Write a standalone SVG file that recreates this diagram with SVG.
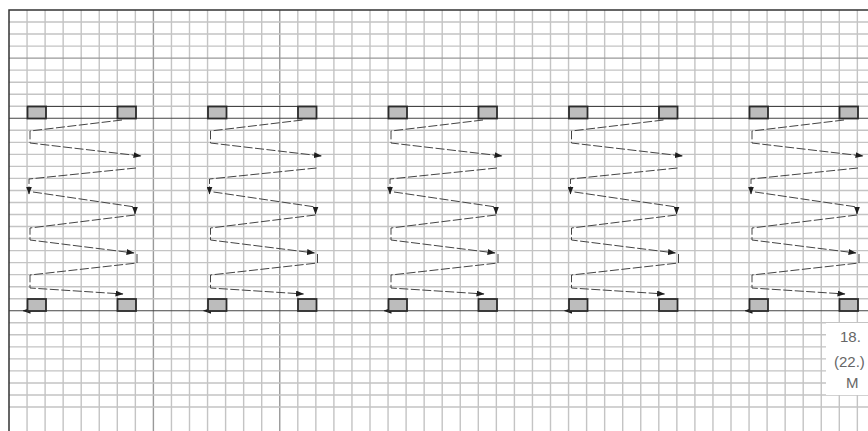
<svg xmlns="http://www.w3.org/2000/svg" width="868" height="431" viewBox="0 0 868 431">
<style>
.g{stroke:#c4c4c4;stroke-width:1.4;fill:none}
.gd{stroke:#999;stroke-width:1.4;fill:none}
.bd{stroke:#444;stroke-width:1.2;fill:none}
.box{fill:#bcbcbc;stroke:#2b2b2b;stroke-width:1.8}
.c{stroke:#444;stroke-width:1;fill:none;stroke-dasharray:9 2.5;marker-end:url(#ah)}
.cs{stroke:#444;stroke-width:1;fill:none}
.t{font-family:"Liberation Sans",Arial,sans-serif;font-size:15px;fill:#666}
</style>
<defs>
<marker id="ah" viewBox="0 0 8 6" refX="7.5" refY="3" markerWidth="8" markerHeight="6" markerUnits="userSpaceOnUse" orient="auto"><path d="M0,0 L8,3 L0,6 z" fill="#1e1e1e"/></marker>
<g id="zig">
<path class="c" d="M122,120 L30,131 L30,143 L141,156"/>
<path class="c" d="M136,168 L29,179 L29,194"/>
<path class="c" d="M33,192 L135,207 L135,214"/>
<path class="c" d="M135,215 L30,228 L30,240 L134,253"/>
<path class="c" d="M137,254 L137,263 L30,275 L30,288 L123,294"/>
<path class="c" d="M40,310.75 L23,310.75"/>
<path class="cs" d="M46,106.5 L117.5,106.5"/>
</g>
</defs>
<rect width="868" height="431" fill="#fff"/>
<g id="grid">
<path class="g" d="M27.05,10V431M45.1,10V431M63.15,10V431M81.2,10V431M99.25,10V431M117.3,10V431M135.35,10V431M171.45,10V431M189.5,10V431M207.55,10V431M225.6,10V431M243.65,10V431M261.7,10V431M297.8,10V431M315.85,10V431M333.9,10V431M351.95,10V431M370,10V431M388.05,10V431M406.1,10V431M424.15,10V431M442.2,10V431M460.25,10V431M478.3,10V431M496.35,10V431M514.4,10V431M532.45,10V431M550.5,10V431M568.55,10V431M586.6,10V431M604.65,10V431M622.7,10V431M640.75,10V431M658.8,10V431M676.85,10V431M694.9,10V431M712.95,10V431M731,10V431M749.05,10V431M767.1,10V431M785.15,10V431M803.2,10V431M821.25,10V431M839.3,10V431M857.35,10V431"/>
<path class="gd" d="M153.4,10V431M279.75,10V431"/>
<path class="g" d="M9,22.03H868M9,34.06H868M9,46.09H868M9,70.15H868M9,82.18H868M9,94.21H868M9,106.24H868M9,130.3H868M9,142.33H868M9,154.36H868M9,166.39H868M9,178.42H868M9,190.45H868M9,202.48H868M9,214.51H868M9,226.54H868M9,238.57H868M9,250.6H868M9,262.63H868M9,274.66H868M9,286.69H868M9,298.72H868M9,322.78H868M9,334.81H868M9,346.84H868M9,358.87H868M9,370.9H868M9,382.93H868M9,394.96H868M9,406.99H868"/>
<path class="gd" d="M9,58.12H868"/>
<path class="bd" d="M9,118.27H868M9,310.75H868"/>
<path d="M9,431V10H868" fill="none" stroke="#333" stroke-width="1.5"/>
</g>
<g id="connectors">
<use href="#zig"/>
<use href="#zig" transform="translate(180.5,0)"/>
<use href="#zig" transform="translate(361,0)"/>
<use href="#zig" transform="translate(541.5,0)"/>
<use href="#zig" transform="translate(722,0)"/>
</g>
<g id="group1"><rect class="box" x="27.5" y="106.5" width="18.5" height="12"/><rect class="box" x="117.5" y="106.5" width="18.5" height="12"/><rect class="box" x="27.5" y="299" width="18.5" height="12"/><rect class="box" x="117.5" y="299" width="18.5" height="12"/></g>
<g id="group2"><rect class="box" x="208" y="106.5" width="18.5" height="12"/><rect class="box" x="298" y="106.5" width="18.5" height="12"/><rect class="box" x="208" y="299" width="18.5" height="12"/><rect class="box" x="298" y="299" width="18.5" height="12"/></g>
<g id="group3"><rect class="box" x="388.5" y="106.5" width="18.5" height="12"/><rect class="box" x="478.5" y="106.5" width="18.5" height="12"/><rect class="box" x="388.5" y="299" width="18.5" height="12"/><rect class="box" x="478.5" y="299" width="18.5" height="12"/></g>
<g id="group4"><rect class="box" x="569" y="106.5" width="18.5" height="12"/><rect class="box" x="659" y="106.5" width="18.5" height="12"/><rect class="box" x="569" y="299" width="18.5" height="12"/><rect class="box" x="659" y="299" width="18.5" height="12"/></g>
<g id="group5"><rect class="box" x="749.5" y="106.5" width="18.5" height="12"/><rect class="box" x="839.5" y="106.5" width="18.5" height="12"/><rect class="box" x="749.5" y="299" width="18.5" height="12"/><rect class="box" x="839.5" y="299" width="18.5" height="12"/></g>
<g id="caption">
<rect x="826" y="323" width="42" height="72" fill="#fff"/>
<text class="t" x="840" y="342">18.</text>
<text class="t" x="834" y="367">(22.)</text>
<text class="t" x="846" y="388">M</text>
</g>
</svg>
